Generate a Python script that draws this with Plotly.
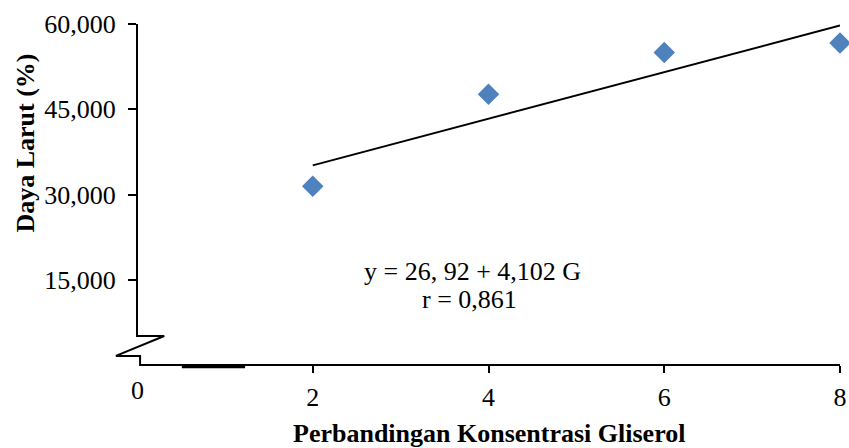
import plotly.graph_objects as go

# Glycerol concentration ratio and measured solubility (%)
gliserol = [2, 4, 6, 8]
daya_larut = [31.47, 47.65, 55.0, 56.65]

# Linear regression reported for the series
intercept = 26.92
slope = 4.102
trend_x = [2, 8]
trend_y = [intercept + slope * g for g in trend_x]

x_ticks = [2, 4, 6, 8]
y_ticks = [15, 30, 45, 60]

X_RANGE = [0, 8]
Y_RANGE = [0, 60]

SERIF = "Liberation Serif, Times New Roman, serif"
BLUE = "#4F81BD"
FS = 26


def px(x):
    return (x - X_RANGE[0]) / (X_RANGE[1] - X_RANGE[0])


def py(y):
    return (y - Y_RANGE[0]) / (Y_RANGE[1] - Y_RANGE[0])


fig = go.Figure()

fig.add_trace(go.Scatter(
    x=trend_x, y=trend_y, mode="lines",
    line=dict(color="black", width=2),
    hoverinfo="skip", showlegend=False,
))

fig.add_trace(go.Scatter(
    x=gliserol, y=daya_larut, mode="markers",
    marker=dict(symbol="diamond", size=16.5, color=BLUE, line=dict(width=0)),
    cliponaxis=False, showlegend=False,
))

# Axis lines with a break mark near the origin (paper coords, not clipped)
axis_line = dict(color="black", width=2)
break_path = "M {a},{b} L {a},{c} L {d},{c} L {e},{f} L {g},{f} L {g},{h} L {i},{h}".format(
    a=px(0), b=py(60), c=py(5.1), d=px(0.31), e=px(-0.24), f=py(1.6),
    g=px(0.035), h=py(0), i=px(8),
)
shapes = [
    dict(type="path", xref="paper", yref="paper", path=break_path, line=axis_line),
    dict(type="line", xref="paper", yref="paper",
         x0=px(0.51), y0=py(-0.3), x1=px(1.23), y1=py(-0.3),
         line=dict(color="black", width=3)),
]

text_font = dict(family=SERIF, size=FS, color="black")
annotations = [
    dict(x=0, y=0, xref="x", yref="y", text="0", showarrow=False,
         yanchor="top", yshift=-9, font=text_font),
    dict(x=3.82, y=16.4, xref="x", yref="y", showarrow=False,
         text="y = 26, 92 + 4,102 G", font=text_font),
    dict(x=3.78, y=11.5, xref="x", yref="y", showarrow=False,
         text="r = 0,861", font=text_font),
    dict(x=0.5, y=-0.2, xref="paper", yref="paper", showarrow=False,
         xanchor="center", yanchor="middle",
         text="<b>Perbandingan Konsentrasi Gliserol</b>", font=text_font),
    dict(x=-0.159, y=0.65, xref="paper", yref="paper", showarrow=False,
         xanchor="center", yanchor="middle",
         text="<b>Daya Larut (%)</b>", textangle=-90, font=text_font),
]

fig.update_layout(
    width=849, height=448,
    margin=dict(l=137, r=9, t=24, b=83, autoexpand=False),
    paper_bgcolor="white", plot_bgcolor="white",
    separators=",.",
    font=dict(family=SERIF, size=FS, color="black"),
    shapes=shapes, annotations=annotations,
    xaxis=dict(range=X_RANGE, tickvals=x_ticks, ticks="outside", ticklen=7,
               tickwidth=2, tickcolor="black", showline=False, showgrid=False,
               zeroline=False, ticklabelstandoff=2, automargin=False,
               fixedrange=True),
    yaxis=dict(range=Y_RANGE, tickvals=y_ticks, tickformat=".3f",
               ticks="outside", ticklen=8, tickwidth=2, tickcolor="black",
               showline=False, showgrid=False, zeroline=False,
               ticklabelstandoff=7, automargin=False, fixedrange=True),
)

fig.write_html("out.html")
